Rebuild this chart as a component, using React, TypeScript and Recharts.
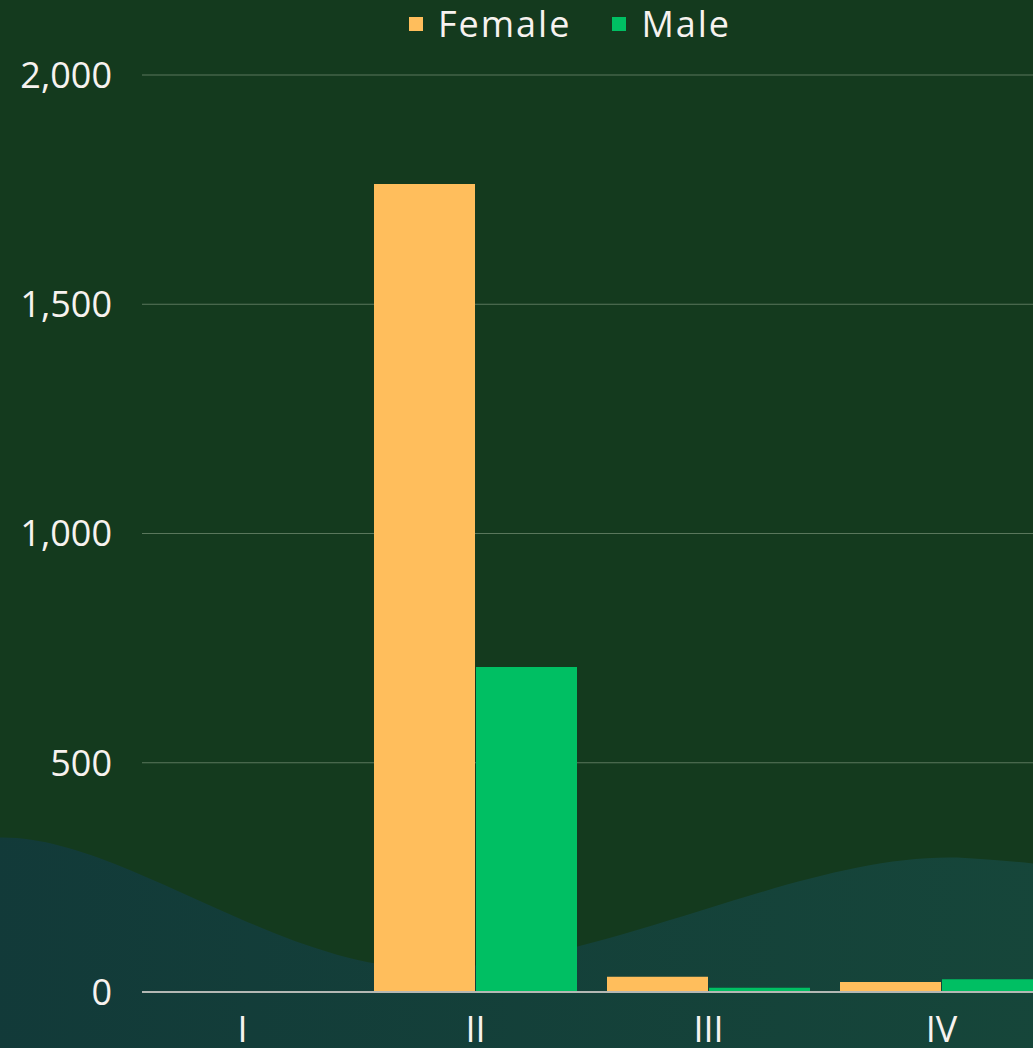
import React from "react";
import { BarChart, Bar, XAxis, YAxis, CartesianGrid, Legend } from "recharts";

const categories = ["I", "II", "III", "IV"];
const femaleValues = [0, 1762, 33, 22];
const maleValues = [0, 709, 9, 28];
const yTicks = [0, 500, 1000, 1500, 2000];

const seriesInfo = [
  { key: "Female", color: "#FFBE5C" },
  { key: "Male", color: "#00BF63" },
];

const data = categories.map((c, i) => ({
  name: c,
  Female: femaleValues[i],
  Male: maleValues[i],
}));

const FONT = "'Open Sans', 'DejaVu Sans', sans-serif";
const TEXT = "#F7F2EF";

const LegendContent = () => (
  <div
    style={{
      display: "flex",
      justifyContent: "center",
      alignItems: "center",
      height: 48,
      fontFamily: FONT,
      fontSize: 36,
      color: TEXT,
    }}
  >
    {seriesInfo.map((s, i) => (
      <div
        key={s.key}
        style={{ display: "flex", alignItems: "center", marginLeft: i === 0 ? 0 : 41 }}
      >
        <span
          style={{
            display: "inline-block",
            width: 14,
            height: 14,
            background: s.color,
            marginRight: 15,
          }}
        />
        <span style={{ lineHeight: "48px", letterSpacing: 2 }}>{s.key}</span>
      </div>
    ))}
  </div>
);

export default function App() {
  return (
    <div
      style={{
        position: "absolute",
        left: 0,
        top: 0,
        width: 1033,
        height: 1048,
        overflow: "hidden",
        background: "#143A1E",
      }}
    >
      <svg
        width={1033}
        height={1048}
        style={{ position: "absolute", left: 0, top: 0 }}
      >
        <defs>
          <linearGradient id="waveGrad" x1="0" y1="0" x2="1" y2="0">
            <stop offset="0%" stopColor="#123A39" />
            <stop offset="100%" stopColor="#16463A" />
          </linearGradient>
        </defs>
        <path
          d="M -10,838 C 110,828 270,965 420,968 C 600,972 800,850 965,858 C 1000,860 1020,862 1045,865 L 1045,1050 L -10,1050 Z"
          fill="url(#waveGrad)"
        />
      </svg>
      <div style={{ position: "absolute", left: 0, top: 0 }}>
        <BarChart
          width={1140}
          height={1100}
          data={data}
          margin={{ top: 27, right: 82, bottom: 48, left: 0 }}
          barCategoryGap={15}
          barGap={1}
        >
          <Legend
            verticalAlign="top"
            align="center"
            content={<LegendContent />}
            wrapperStyle={{ left: 0, top: 0, width: 1140, height: 48 }}
          />
          <CartesianGrid vertical={false} stroke="#5A775C" strokeWidth={1} />
          <XAxis
            dataKey="name"
            padding={{ left: -16, right: 0 }}
            axisLine={{ stroke: "#B4B8B4", strokeWidth: 2 }}
            tickLine={false}
            tickSize={0}
            tickMargin={24}
            height={60}
            tick={{ fill: TEXT, fontSize: 36, fontFamily: FONT }}
            interval={0}
          />
          <YAxis
            width={142}
            domain={[0, 2000]}
            ticks={yTicks}
            axisLine={false}
            tickLine={false}
            tickSize={0}
            tickMargin={30}
            tick={{ fill: TEXT, fontSize: 36, fontFamily: FONT }}
            tickFormatter={(v: number) => v.toLocaleString("en-US")}
          />
          {seriesInfo.map((s) => (
            <Bar key={s.key} dataKey={s.key} fill={s.color} isAnimationActive={false} />
          ))}
        </BarChart>
      </div>
    </div>
  );
}
